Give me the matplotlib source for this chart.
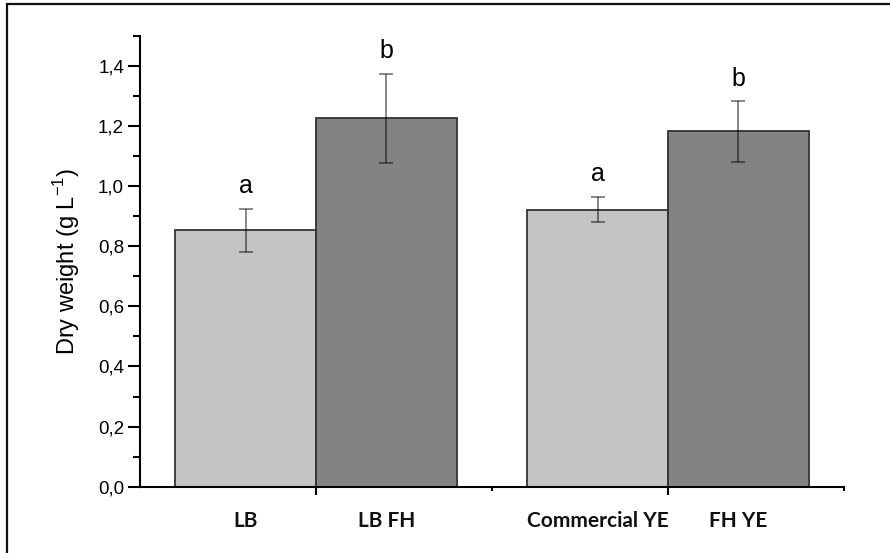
import matplotlib
matplotlib.use("Agg")
import matplotlib.pyplot as plt
from matplotlib.ticker import MultipleLocator, FuncFormatter
import matplotlib.transforms as mtransforms
from matplotlib.patches import Rectangle

# dry weight per medium
media = ["LB", "LB FH", "Commercial YE", "FH YE"]
dry_weight = [0.853, 1.226, 0.922, 1.182]
std_err = [0.072, 0.148, 0.042, 0.100]
groups = ["a", "b", "a", "b"]
positions = [0.6, 1.4, 2.6, 3.4]
bar_colors = ["#c4c4c4", "#838383", "#c4c4c4", "#838383"]

plt.rcParams["font.family"] = ["Liberation Sans", "DejaVu Sans"]

fig = plt.figure(figsize=(8.9, 5.53), dpi=100)
ax = fig.add_axes([0.1573, 0.1199, 0.791, 0.8152])

ax.bar(positions, dry_weight, width=0.8, color=bar_colors,
       edgecolor="#333333", linewidth=1.3, zorder=2)
ax.errorbar(positions, dry_weight, yerr=std_err, fmt="none",
            ecolor=(0, 0, 0, 0.5), elinewidth=1.3, capsize=5, capthick=1.3, zorder=3)

for x, y, e, g in zip(positions, dry_weight, std_err, groups):
    ax.text(x, y + e + 0.075, g, ha="center", va="center", fontsize=18)

ax.set_xlim(0, 4)
ax.set_ylim(0, 1.5)

ax.yaxis.set_major_locator(MultipleLocator(0.2))
ax.yaxis.set_minor_locator(MultipleLocator(0.1))
ax.yaxis.set_major_formatter(FuncFormatter(lambda v, p: f"{v:.1f}".replace(".", ",")))
ax.tick_params(axis="y", which="major", length=8.5, width=1.5, labelsize=13.5, pad=3)
ax.tick_params(axis="y", which="minor", length=5, width=1.5)

ax.set_xticks([1, 3])
ax.set_xticks([2, 4], minor=True)
ax.set_xticklabels([])
ax.tick_params(axis="x", which="major", length=6, width=1.5)
ax.tick_params(axis="x", which="minor", length=3, width=1.5)

trans = mtransforms.blended_transform_factory(ax.transData, ax.transAxes)
for x, name in zip(positions, media):
    ax.text(x, -0.077, name, transform=trans, ha="center", va="center",
            fontsize=15, fontweight="bold", family=["Lato", "DejaVu Sans"],
            color="#111111")

for side in ["top", "right"]:
    ax.spines[side].set_visible(False)
for side in ["left", "bottom"]:
    ax.spines[side].set_linewidth(1.5)

ax.set_ylabel(r"Dry weight (g L$^{\mathregular{-1}}$)", fontsize=17)
ax.yaxis.set_label_coords(-0.083, 0.5)

# outer frame
fig.patches.append(Rectangle((7 / 890, -0.1), 1.2, 1 - 4 / 553 + 0.1,
                             transform=fig.transFigure, fill=False,
                             edgecolor="#111111", linewidth=1.6))

fig.savefig("out.png", dpi=100)
